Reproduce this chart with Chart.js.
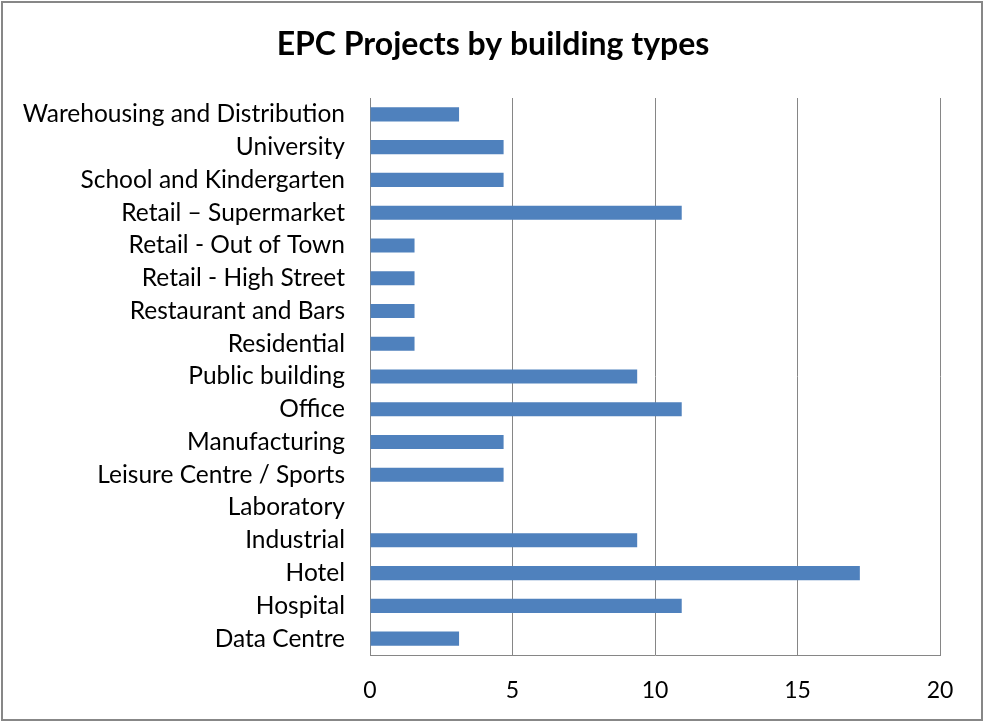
<!DOCTYPE html>
<html>
<head>
<meta charset="utf-8">
<script src="https://cdn.jsdelivr.net/npm/chart.js@4"></script>
<style>
  html, body { margin: 0; padding: 0; background: #fff; }
  #wrap { width: 985px; height: 723px; }
</style>
</head>
<body>
<div id="wrap"><canvas id="epcChart"></canvas></div>
<script>
// categories listed top to bottom as shown
const buildingTypes = [
    'Warehousing and Distribution',
    'University',
    'School and Kindergarten',
    'Retail \u2013 Supermarket',
    'Retail - Out of Town',
    'Retail - High Street',
    'Restaurant and Bars',
    'Residential',
    'Public building',
    'Office',
    'Manufacturing',
    'Leisure Centre / Sports',
    'Laboratory',
    'Industrial',
    'Hotel',
    'Hospital',
    'Data Centre'
];
const projectShare = [3.125, 4.6875, 4.6875, 10.9375, 1.5625, 1.5625, 1.5625, 1.5625,
    9.375, 10.9375, 4.6875, 4.6875, 0, 9.375, 17.1875, 10.9375, 3.125];
const xTicks = [0, 5, 10, 15, 20];
const chartTitle = 'EPC Projects by building types';

const fontFamily = 'Lato, "Open Sans", sans-serif';

// outer frame + title centred on the whole picture (built-in title centres inside the padding)
const frame = {
    id: 'frame',
    afterDraw(chart) {
        const c = chart.ctx;
        c.save();
        c.strokeStyle = '#878787';
        c.lineWidth = 2;
        c.strokeRect(2, 2, 980, 718);
        c.fillStyle = '#000';
        c.font = 'bold 32px ' + fontFamily;
        c.textAlign = 'center';
        c.textBaseline = 'middle';
        c.fillText(chartTitle, 493, 45);
        c.restore();
    }
};

document.addEventListener("DOMContentLoaded", function () {
    const ctx = document.getElementById('epcChart');
    new Chart(ctx, {
        type: 'bar',
        data: {
            labels: buildingTypes,
            datasets: [{
                label: 'EPC Projects',
                data: projectShare,
                backgroundColor: '#4F81BD',
                barPercentage: 0.43,
                categoryPercentage: 1.0
            }]
        },
        options: {
            indexAxis: 'y',
            responsive: true,
            maintainAspectRatio: false,
            animation: false,
            layout: { padding: { top: 98, right: 45, bottom: 0, left: 6 } },
            plugins: {
                legend: { display: false },
                tooltip: { enabled: false },
                title: { display: false }
            },
            scales: {
                x: {
                    min: 0,
                    max: 20,
                    afterBuildTicks: axis => { axis.ticks = xTicks.map(v => ({ value: v })); },
                    afterFit: axis => { axis.height = 68; },
                    grid: { color: '#868686', lineWidth: 1, drawTicks: false },
                    border: { color: '#868686', width: 1 },
                    ticks: { color: '#000', padding: 22, font: { family: fontFamily, size: 23 } }
                },
                y: {
                    afterFit: axis => { axis.width = 364; },
                    grid: { display: false, drawTicks: false },
                    border: { color: '#868686', width: 1 },
                    ticks: { color: '#000', padding: 25, font: { family: fontFamily, size: 24.5 } }
                }
            }
        },
        plugins: [frame]
    });
});
</script>
</body>
</html>
